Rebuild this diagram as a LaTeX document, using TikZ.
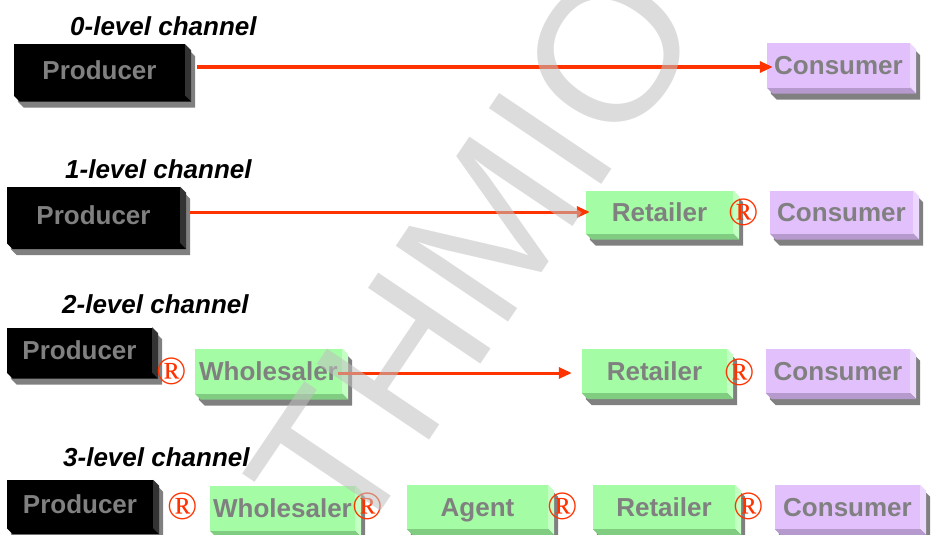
\documentclass[tikz,border=0pt]{standalone}
\usepackage{fontspec}
\setmainfont{Liberation Sans}
\newfontfamily\regfont{Liberation Serif}
\usetikzlibrary{arrows.meta,backgrounds}
\definecolor{txtgray}{RGB}{128,128,128}
\definecolor{shd}{RGB}{128,128,128}
\definecolor{blkright}{RGB}{51,51,51}
\definecolor{grnfront}{RGB}{164,252,164}
\definecolor{grnright}{RGB}{196,255,196}
\definecolor{grnbottom}{RGB}{128,204,128}
\definecolor{prpfront}{RGB}{226,192,252}
\definecolor{prpright}{RGB}{236,216,255}
\definecolor{prpbottom}{RGB}{182,154,206}
\definecolor{flowred}{RGB}{255,51,0}
\definecolor{wmgray}{RGB}{192,192,192}
\tikzset{
  chbox/.style={rectangle, inner sep=0pt, text=txtgray,
    text height=18.6pt, text depth=0pt,
    font=\fontsize{26}{26}\selectfont\bfseries},
  prodbox/.style={chbox, fill=black},
  grnbox/.style={chbox, fill=grnfront},
  prpbox/.style={chbox, fill=prpfront},
  lvl/.style={anchor=west, inner sep=0pt,
    font=\fontsize{26}{26}\selectfont\bfseries\itshape},
  reg/.style={inner sep=0pt, text=flowred,
    font=\regfont\fontsize{40}{40}\selectfont},
  flow/.style={->, draw=flowred, line width=3pt, shorten >=6pt},
  wmark/.style={inner sep=0pt, rotate=56, text=wmgray, opacity=0.55,
    font=\fontsize{197}{197}\selectfont}
}
\begin{document}
\begin{tikzpicture}[x=1pt, y=-1pt, >={Triangle[length=13pt,width=11pt]}]
\useasboundingbox (0,0) rectangle (931,535);
% 0-level
\node[lvl] (l0) at (70,26) {0-level channel};
\node[prodbox, minimum width=171pt, minimum height=51pt] (p0) at (99.5,70) {Producer};
\node[prpbox, minimum width=143pt, minimum height=44pt] (c0) at (838.5,65.5) {Consumer};
% 1-level
\node[lvl] (l1) at (65,169) {1-level channel};
\node[prodbox, minimum width=173pt, minimum height=56pt] (p1) at (93.5,215) {Producer};
\node[grnbox, minimum width=147pt, minimum height=43pt] (r1) at (659.5,212) {Retailer};
\node[reg] (g1) at (744,212) {®};
\node[prpbox, minimum width=143pt, minimum height=43pt] (c1) at (841.5,212) {Consumer};
% 2-level
\node[lvl] (l2) at (62,304) {2-level channel};
\node[prodbox, minimum width=145pt, minimum height=45pt] (p2) at (79.5,350) {Producer};
\node[reg] (g2a) at (172,371) {®};
\node[grnbox, minimum width=147pt, minimum height=45pt] (w2) at (268.5,371) {Wholesaler};
\node[grnbox, minimum width=145pt, minimum height=44pt] (r2) at (654.5,371) {Retailer};
\node[reg] (g2b) at (740,372) {®};
\node[prpbox, minimum width=144pt, minimum height=44pt] (c2) at (838,371) {Consumer};
% 3-level
\node[lvl] (l3) at (63,457) {3-level channel};
\node[prodbox, minimum width=146pt, minimum height=48pt] (p3) at (80,504) {Producer};
\node[reg] (g3a) at (183,506) {®};
\node[grnbox, minimum width=145pt, minimum height=45pt] (w3) at (282.5,508) {Wholesaler};
\node[reg] (g3b) at (368,506) {®};
\node[grnbox, minimum width=141pt, minimum height=44pt] (a3) at (477.5,507) {Agent};
\node[reg] (g3c) at (563,506) {®};
\node[grnbox, minimum width=142pt, minimum height=44pt] (r3) at (664,507) {Retailer};
\node[reg] (g3d) at (749,506) {®};
\node[prpbox, minimum width=145pt, minimum height=44pt] (c3) at (847.5,507) {Consumer};

% bevel sides and shadows
\begin{scope}[on background layer]
\foreach \n/\sr/\sb in {p0/blkright/black, p1/blkright/black, p2/blkright/black,
    p3/blkright/black, r1/grnright/grnbottom, w2/grnright/grnbottom,
    r2/grnright/grnbottom, w3/grnright/grnbottom, a3/grnright/grnbottom,
    r3/grnright/grnbottom, c0/prpright/prpbottom, c1/prpright/prpbottom,
    c2/prpright/prpbottom, c3/prpright/prpbottom}{
  \fill[shd] ([shift={(4,6)}]\n.north west) -- ([shift={(4,6)}]\n.north east)
    -- ([shift={(10,12)}]\n.north east) -- ([shift={(10,12)}]\n.south east)
    -- ([shift={(10,12)}]\n.south west) -- ([shift={(4,6)}]\n.south west) -- cycle;
  \fill[\sr] (\n.north east) -- ([shift={(6,6)}]\n.north east)
    -- ([shift={(6,6)}]\n.south east) -- (\n.south east) -- cycle;
  \fill[\sb] (\n.south west) -- (\n.south east)
    -- ([shift={(6,6)}]\n.south east) -- ([shift={(6,6)}]\n.south west) -- cycle;
}
\end{scope}

% flows
\draw[flow] ([xshift=12pt,yshift=3pt]p0.east) -- ([xshift=12pt,yshift=3pt]p0.east -| c0.west);
\draw[flow] ([xshift=10pt,yshift=3pt]p1.east) -- ([xshift=10pt,yshift=3pt]p1.east -| r1.west);
\draw[flow] ([xshift=-4pt,yshift=-2pt]w2.east) -- ([xshift=-4pt,yshift=-2pt]w2.east -| r2.west);

% watermark
\node[wmark] (wm) at (474,252) {THMIO};
\end{tikzpicture}
\end{document}
